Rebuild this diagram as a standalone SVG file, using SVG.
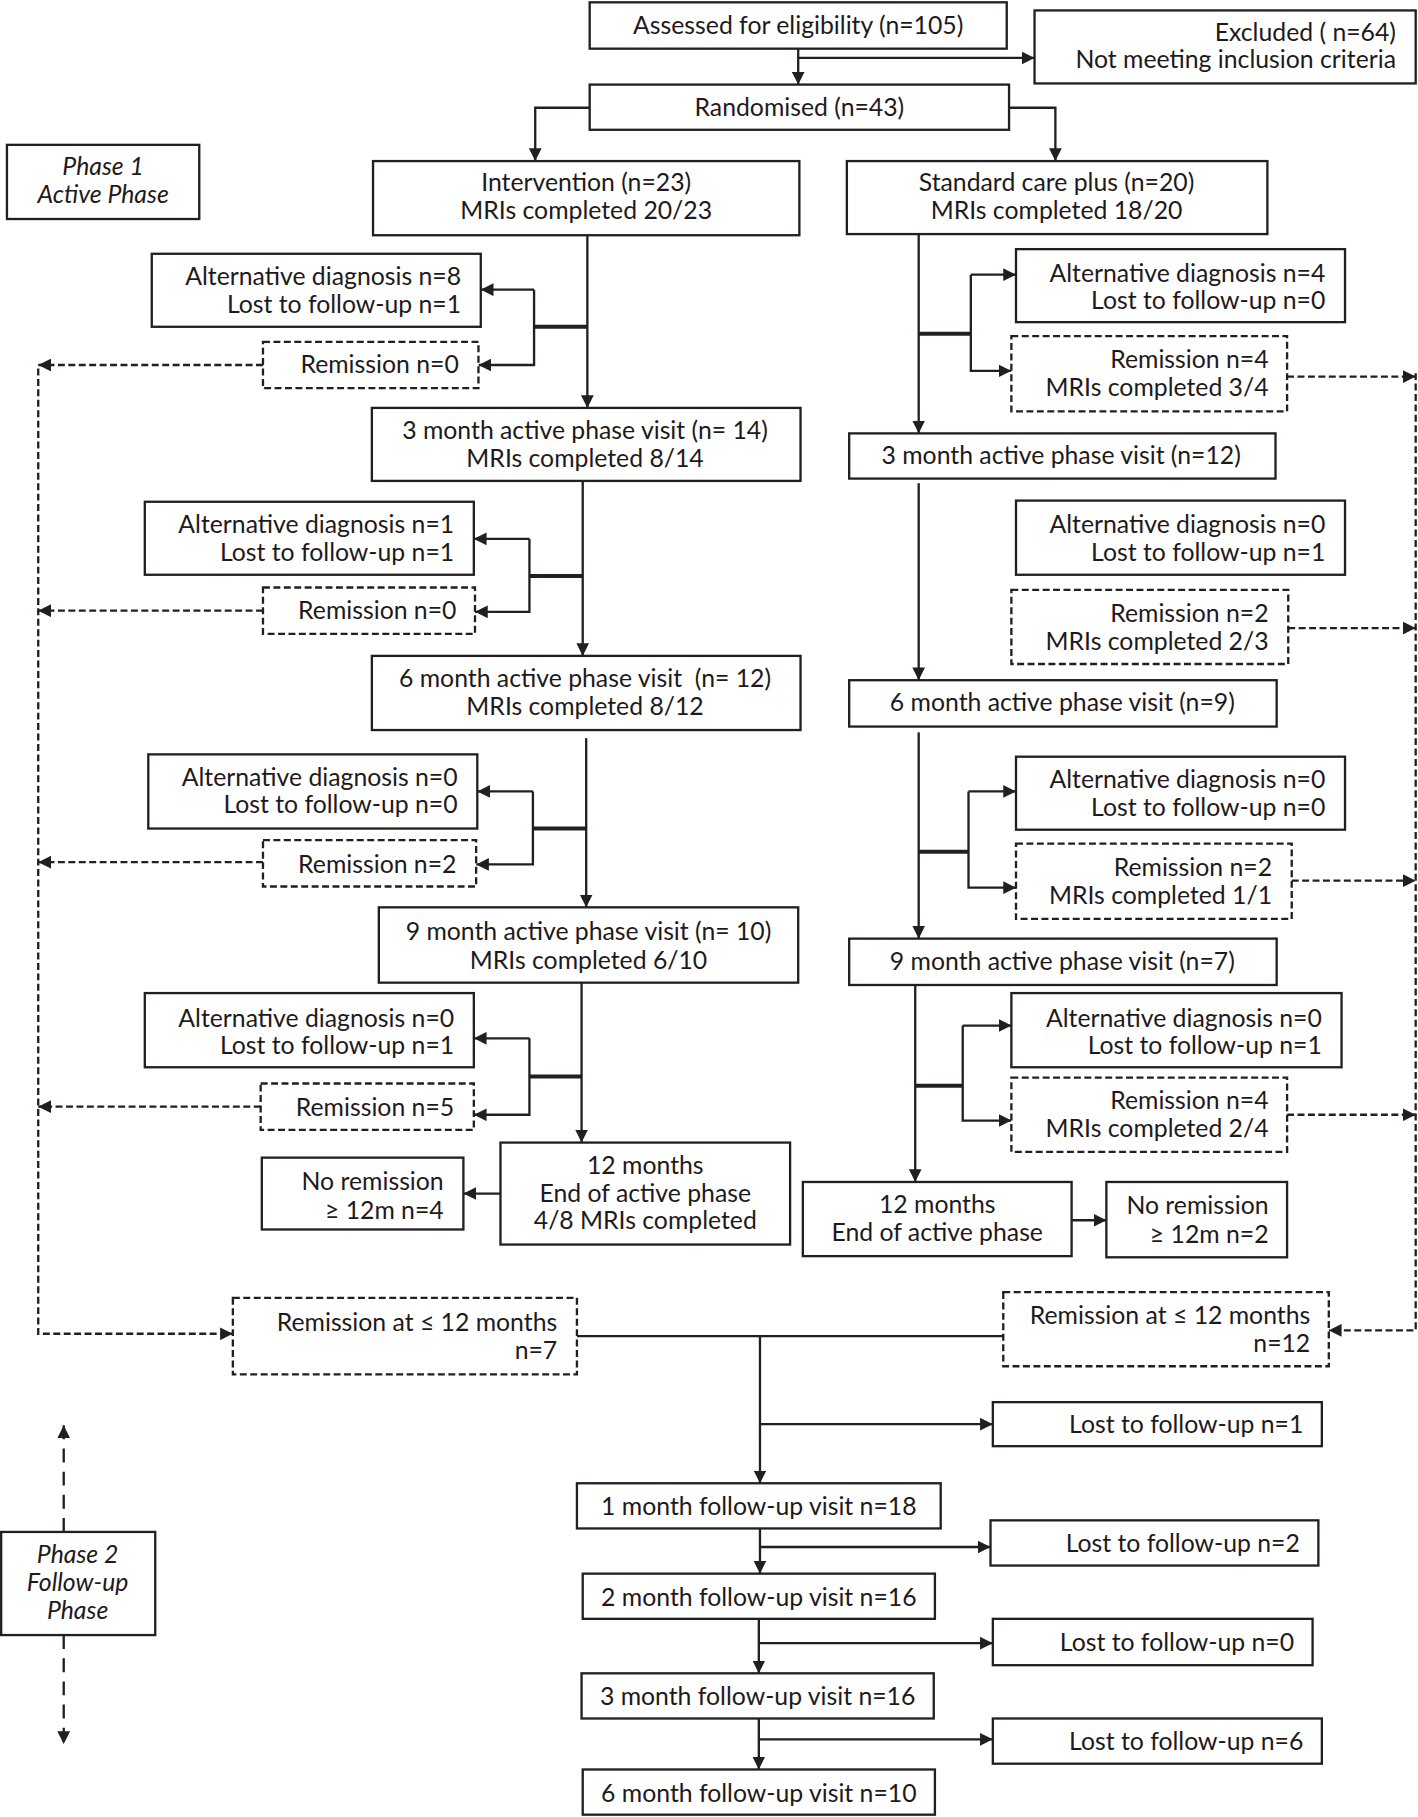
<svg xmlns="http://www.w3.org/2000/svg" width="1418" height="1817" viewBox="0 0 1418 1817">
<style>
.b{fill:#fff;stroke:#231f20;stroke-width:2}
.d{fill:#fff;stroke:#231f20;stroke-width:2;stroke-dasharray:6 3}
text{font-family:Lato,"Open Sans",sans-serif;font-size:21.4px;fill:#1e1a1b}
.c{text-anchor:middle}
.r{text-anchor:end}
.i{font-style:italic}
.l{fill:none;stroke:#231f20;stroke-width:2}
.k{fill:none;stroke:#231f20;stroke-width:3.5}
.ld{fill:none;stroke:#231f20;stroke-width:2;stroke-dasharray:6 3}
.lp{fill:none;stroke:#231f20;stroke-width:2;stroke-dasharray:12 8}
</style>
<defs>
<marker id="a" viewBox="0 0 10 10" refX="10" refY="5" markerWidth="11" markerHeight="11" markerUnits="userSpaceOnUse" orient="auto"><path d="M0,0 L10,5 L0,10 z" fill="#231f20"/></marker>
</defs>
<rect width="1418" height="1817" fill="#fff"/>
<g transform="scale(1.1585 1.1588)">
<g id="connectors">
<path class="l" d="M689,42 V73" marker-end="url(#a)"/>
<path class="l" d="M689,50 H893" marker-end="url(#a)"/>
<path class="l" d="M509,93 H462 V139" marker-end="url(#a)"/>
<path class="l" d="M871,93 H911 V139" marker-end="url(#a)"/>
<path class="l" d="M507,203 V352" marker-end="url(#a)"/>
<path class="k" d="M507,282 H461"/>
<path class="l" d="M461,250 H415" marker-end="url(#a)"/>
<path class="l" d="M461,250 V315 H413" marker-end="url(#a)"/>
<path class="l" d="M503,415 V566" marker-end="url(#a)"/>
<path class="k" d="M503,497 H457"/>
<path class="l" d="M457,465 H409" marker-end="url(#a)"/>
<path class="l" d="M457,465 V528 H410" marker-end="url(#a)"/>
<path class="l" d="M506,637 V783" marker-end="url(#a)"/>
<path class="k" d="M506,715 H460"/>
<path class="l" d="M460,683 H412" marker-end="url(#a)"/>
<path class="l" d="M460,683 V746 H411" marker-end="url(#a)"/>
<path class="l" d="M502,848 V986" marker-end="url(#a)"/>
<path class="k" d="M502,929 H457"/>
<path class="l" d="M457,896 H409" marker-end="url(#a)"/>
<path class="l" d="M457,896 V962 H409" marker-end="url(#a)"/>
<path class="l" d="M432,1030 H400" marker-end="url(#a)"/>
<path class="ld" d="M227,315 H33" marker-end="url(#a)"/>
<path class="ld" d="M227,527 H33" marker-end="url(#a)"/>
<path class="ld" d="M227,744 H33" marker-end="url(#a)"/>
<path class="ld" d="M225,955 H33" marker-end="url(#a)"/>
<path class="ld" d="M33,318 V1151 H201" marker-end="url(#a)"/>
<path class="l" d="M793,202 V374" marker-end="url(#a)"/>
<path class="k" d="M793,288 H838"/>
<path class="l" d="M838,237 H877" marker-end="url(#a)"/>
<path class="l" d="M838,237 V320 H873" marker-end="url(#a)"/>
<path class="l" d="M793,417 V587" marker-end="url(#a)"/>
<path class="l" d="M793,632 V810" marker-end="url(#a)"/>
<path class="k" d="M793,735 H836"/>
<path class="l" d="M836,683 H877" marker-end="url(#a)"/>
<path class="l" d="M836,683 V766 H877" marker-end="url(#a)"/>
<path class="l" d="M790,850 V1020" marker-end="url(#a)"/>
<path class="k" d="M790,937 H831"/>
<path class="l" d="M831,885 H873" marker-end="url(#a)"/>
<path class="l" d="M831,885 V967 H873" marker-end="url(#a)"/>
<path class="l" d="M925,1053 H955" marker-end="url(#a)"/>
<path class="ld" d="M1111,325 H1222" marker-end="url(#a)"/>
<path class="ld" d="M1112,542 H1222" marker-end="url(#a)"/>
<path class="ld" d="M1115,760 H1222" marker-end="url(#a)"/>
<path class="ld" d="M1111,962 H1222" marker-end="url(#a)"/>
<path class="ld" d="M1222,322 V1148 H1147" marker-end="url(#a)"/>
<path class="l" d="M498,1153 H866"/>
<path class="l" d="M656,1153 V1280" marker-end="url(#a)"/>
<path class="l" d="M656,1229 H857" marker-end="url(#a)"/>
<path class="l" d="M656,1319 V1358" marker-end="url(#a)"/>
<path class="l" d="M656,1335 H855" marker-end="url(#a)"/>
<path class="l" d="M655,1397 V1444" marker-end="url(#a)"/>
<path class="l" d="M655,1418 H857" marker-end="url(#a)"/>
<path class="l" d="M655,1483 V1527" marker-end="url(#a)"/>
<path class="l" d="M655,1501 H857" marker-end="url(#a)"/>
<path class="lp" d="M55,1322 V1230" marker-end="url(#a)"/>
<path class="lp" d="M55,1411 V1505" marker-end="url(#a)"/>
</g>

<g id="assessed"><rect class="b" x="509" y="2" width="360" height="40"/><text class="c" x="689" y="29">Assessed for eligibility (n=105)</text></g>
<g id="excluded"><rect class="b" x="893" y="9" width="329" height="63"/><text class="r" x="1205" y="35">Excluded ( n=64)</text><text class="r" x="1205" y="59">Not meeting inclusion criteria</text></g>
<g id="randomised"><rect class="b" x="509" y="73" width="362" height="39"/><text class="c" x="690" y="100">Randomised (n=43)</text></g>
<g id="phase1"><rect class="b" x="6" y="125" width="166" height="64"/><text class="c i" x="89" y="151">Phase 1</text><text class="c i" x="89" y="175">Active Phase</text></g>

<g id="intervention"><rect class="b" x="322" y="139" width="368" height="64"/><text class="c" x="506" y="165">Intervention (n=23)</text><text class="c" x="506" y="189">MRIs completed 20/23</text></g>
<g id="standard"><rect class="b" x="731" y="139" width="363" height="63"/><text class="c" x="912" y="165">Standard care plus (n=20)</text><text class="c" x="912" y="189">MRIs completed 18/20</text></g>

<g id="i-alt0"><rect class="b" x="131" y="219" width="284" height="63"/><text class="r" x="398" y="246">Alternative diagnosis n=8</text><text class="r" x="398" y="270">Lost to follow-up n=1</text></g>
<g id="i-rem0"><rect class="d" x="227" y="295" width="186" height="40"/><text class="r" x="396" y="322">Remission n=0</text></g>
<g id="i-3m"><rect class="b" x="321" y="352" width="370" height="63"/><text class="c" x="505" y="379">3 month active phase visit (n= 14)</text><text class="c" x="505" y="403">MRIs completed 8/14</text></g>
<g id="i-alt3"><rect class="b" x="125" y="433" width="284" height="63"/><text class="r" x="392" y="460">Alternative diagnosis n=1</text><text class="r" x="392" y="484">Lost to follow-up n=1</text></g>
<g id="i-rem3"><rect class="d" x="227" y="507" width="183" height="40"/><text class="r" x="394" y="534">Remission n=0</text></g>
<g id="i-6m"><rect class="b" x="321" y="566" width="370" height="64"/><text class="c" x="505" y="593">6 month active phase visit&#160; (n= 12)</text><text class="c" x="505" y="617">MRIs completed 8/12</text></g>
<g id="i-alt6"><rect class="b" x="128" y="651" width="284" height="64"/><text class="r" x="395" y="678">Alternative diagnosis n=0</text><text class="r" x="395" y="702">Lost to follow-up n=0</text></g>
<g id="i-rem6"><rect class="d" x="227" y="725" width="184" height="40"/><text class="r" x="394" y="753">Remission n=2</text></g>
<g id="i-9m"><rect class="b" x="327" y="783" width="362" height="65"/><text class="c" x="508" y="811">9 month active phase visit (n= 10)</text><text class="c" x="508" y="836">MRIs completed 6/10</text></g>
<g id="i-alt9"><rect class="b" x="125" y="857" width="284" height="64"/><text class="r" x="392" y="886">Alternative diagnosis n=0</text><text class="r" x="392" y="910">Lost to follow-up n=1</text></g>
<g id="i-rem9"><rect class="d" x="225" y="935" width="184" height="40"/><text class="r" x="392" y="963">Remission n=5</text></g>
<g id="i-12m"><rect class="b" x="432" y="986" width="250" height="88"/><text class="c" x="557" y="1013">12 months</text><text class="c" x="557" y="1037">End of active phase</text><text class="c" x="557" y="1061">4/8 MRIs completed</text></g>
<g id="i-norem"><rect class="b" x="226" y="999" width="174" height="62"/><text class="r" x="383" y="1027">No remission</text><text class="r" x="383" y="1052">≥ 12m n=4</text></g>

<g id="s-alt0"><rect class="b" x="877" y="215" width="284" height="63"/><text class="r" x="1144" y="243">Alternative diagnosis n=4</text><text class="r" x="1144" y="267">Lost to follow-up n=0</text></g>
<g id="s-rem0"><rect class="d" x="873" y="290" width="238" height="65"/><text class="r" x="1095" y="318">Remission n=4</text><text class="r" x="1095" y="342">MRIs completed 3/4</text></g>
<g id="s-3m"><rect class="b" x="733" y="374" width="368" height="39"/><text class="c" x="916" y="400">3 month active phase visit (n=12)</text></g>
<g id="s-alt3"><rect class="b" x="877" y="432" width="284" height="64"/><text class="r" x="1144" y="460">Alternative diagnosis n=0</text><text class="r" x="1144" y="484">Lost to follow-up n=1</text></g>
<g id="s-rem3"><rect class="d" x="873" y="509" width="239" height="64"/><text class="r" x="1095" y="537">Remission n=2</text><text class="r" x="1095" y="561">MRIs completed 2/3</text></g>
<g id="s-6m"><rect class="b" x="733" y="587" width="369" height="40"/><text class="c" x="917" y="614">6 month active phase visit (n=9)</text></g>
<g id="s-alt6"><rect class="b" x="877" y="653" width="284" height="63"/><text class="r" x="1144" y="680">Alternative diagnosis n=0</text><text class="r" x="1144" y="704">Lost to follow-up n=0</text></g>
<g id="s-rem6"><rect class="d" x="877" y="728" width="238" height="65"/><text class="r" x="1098" y="756">Remission n=2</text><text class="r" x="1098" y="780">MRIs completed 1/1</text></g>
<g id="s-9m"><rect class="b" x="733" y="810" width="369" height="40"/><text class="c" x="917" y="837">9 month active phase visit (n=7)</text></g>
<g id="s-alt9"><rect class="b" x="873" y="857" width="285" height="64"/><text class="r" x="1141" y="886">Alternative diagnosis n=0</text><text class="r" x="1141" y="910">Lost to follow-up n=1</text></g>
<g id="s-rem9"><rect class="d" x="873" y="930" width="238" height="64"/><text class="r" x="1095" y="957">Remission n=4</text><text class="r" x="1095" y="981">MRIs completed 2/4</text></g>
<g id="s-12m"><rect class="b" x="693" y="1020" width="232" height="64"/><text class="c" x="809" y="1047">12 months</text><text class="c" x="809" y="1071">End of active phase</text></g>
<g id="s-norem"><rect class="b" x="955" y="1020" width="156" height="65"/><text class="r" x="1095" y="1048">No remission</text><text class="r" x="1095" y="1073">≥ 12m n=2</text></g>

<g id="i-remtotal"><rect class="d" x="201" y="1120" width="297" height="66"/><text class="r" x="481" y="1149">Remission at ≤ 12 months</text><text class="r" x="481" y="1173">n=7</text></g>
<g id="s-remtotal"><rect class="d" x="866" y="1115" width="281" height="64"/><text class="r" x="1131" y="1143">Remission at ≤ 12 months</text><text class="r" x="1131" y="1167">n=12</text></g>
<g id="lost1"><rect class="b" x="857" y="1210" width="284" height="38"/><text class="r" x="1125" y="1237">Lost to follow-up n=1</text></g>
<g id="fu1"><rect class="b" x="498" y="1280" width="314" height="39"/><text class="c" x="655" y="1307">1 month follow-up visit n=18</text></g>
<g id="lost2"><rect class="b" x="855" y="1312" width="283" height="39"/><text class="r" x="1122" y="1339">Lost to follow-up n=2</text></g>
<g id="fu2"><rect class="b" x="503" y="1358" width="304" height="39"/><text class="c" x="655" y="1386">2 month follow-up visit n=16</text></g>
<g id="lost3"><rect class="b" x="857" y="1397" width="276" height="40"/><text class="r" x="1117" y="1425">Lost to follow-up n=0</text></g>
<g id="fu3"><rect class="b" x="502" y="1444" width="304" height="39"/><text class="c" x="654" y="1471">3 month follow-up visit n=16</text></g>
<g id="lost4"><rect class="b" x="857" y="1483" width="284" height="39"/><text class="r" x="1125" y="1510">Lost to follow-up n=6</text></g>
<g id="fu6"><rect class="b" x="503" y="1527" width="304" height="39"/><text class="c" x="655" y="1555">6 month follow-up visit n=10</text></g>
<g id="phase2"><rect class="b" x="1" y="1322" width="133" height="89"/><text class="c i" x="67" y="1349">Phase 2</text><text class="c i" x="67" y="1373">Follow-up</text><text class="c i" x="67" y="1397">Phase</text></g>
</g>
</svg>
